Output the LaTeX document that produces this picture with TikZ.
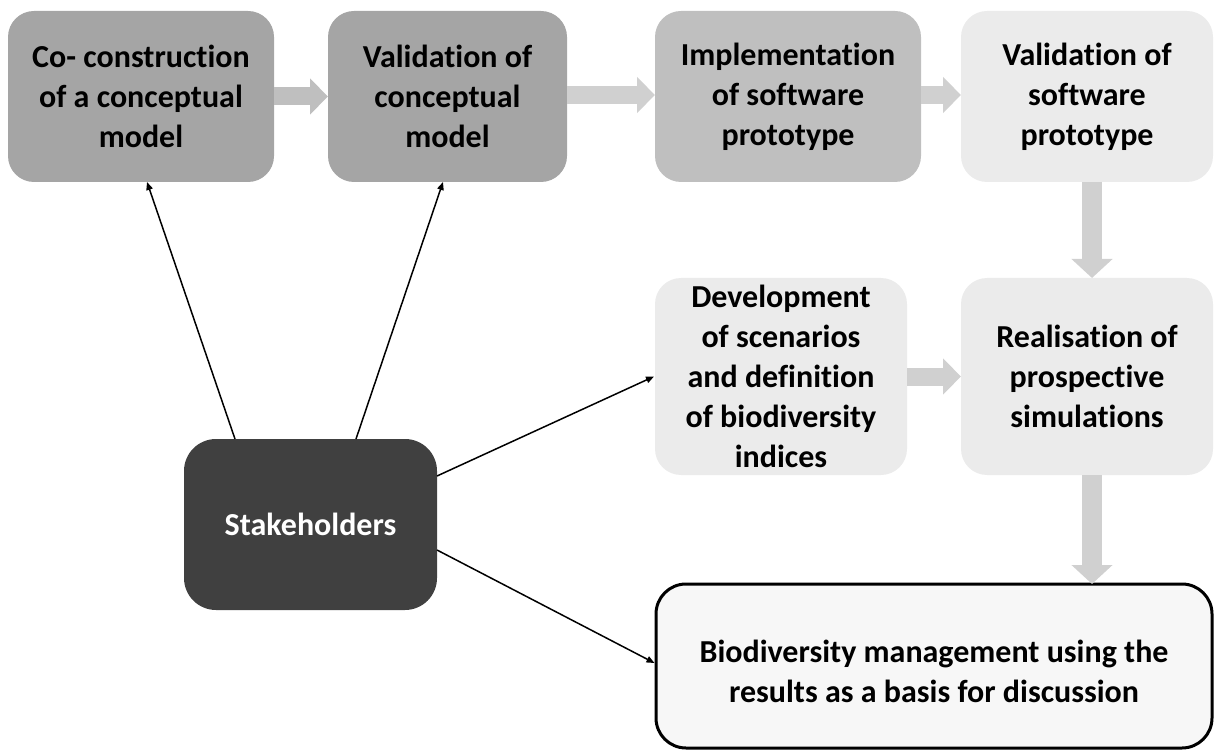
\documentclass[tikz,border=0pt]{standalone}
\usepackage{fontspec}
\setmainfont{Carlito}[Ligatures=NoCommon]
\usetikzlibrary{arrows.meta}
\definecolor{gA}{HTML}{A5A5A5}
\definecolor{gB}{HTML}{BFBFBF}
\definecolor{gC}{HTML}{EBEBEB}
\definecolor{gD}{HTML}{404040}
\definecolor{gE}{HTML}{F7F7F7}
\definecolor{arrA}{HTML}{BFBFBF}
\definecolor{arrB}{HTML}{D0D0D0}
\begin{document}
\begin{tikzpicture}[x=1pt,y=-1pt,
  box/.style={rounded corners=26pt, inner sep=0pt, outer sep=0pt, align=center,
    font=\fontsize{32}{40}\selectfont\bfseries, text=black},
  blockh/.style={line width=18pt, -{Triangle[length=18pt,width=35pt]}},
  blockv/.style={line width=20pt, -{Triangle[length=19pt,width=40pt]}},
  link/.style={line width=1.5pt, -{Triangle[length=8pt,width=6.5pt]}}]
\useasboundingbox (0,0) rectangle (1215,751);
\node[box, fill=gA, minimum width=266pt, minimum height=171pt] (b1) at (141,96.5)
  {Co- construction\\of a conceptual\\model};
\node[box, fill=gA, minimum width=239pt, minimum height=171pt] (b2) at (447.5,96.5)
  {Validation of\\conceptual\\model};
\node[box, fill=gB, minimum width=266pt, minimum height=171pt] (b3) at (788,96.5)
  {Implementation\\of software\\prototype};
\node[box, fill=gC, minimum width=252pt, minimum height=171pt] (b4) at (1087,96.5)
  {Validation of\\software\\prototype};
\node[box, fill=gC, minimum width=252pt, minimum height=197pt] (b5) at (781,376.5)
  {Development\\of scenarios\\and definition\\of biodiversity\\indices};
\node[box, fill=gC, minimum width=252pt, minimum height=197pt] (b6) at (1087,376.5)
  {Realisation of\\prospective\\simulations};
\node[box, fill=gD, text=white, rounded corners=32pt, minimum width=253pt, minimum height=171pt] (st) at (310.5,524.5)
  {Stakeholders};
\node[box, fill=gE, draw=black, line width=3pt, rounded corners=30pt, minimum width=556pt, minimum height=164pt] (b7) at (934,666)
  {\rule{0pt}{34pt}Biodiversity management using the\\results as a basis for discussion};
% block arrows
\coordinate (d1) at ([xshift=5pt]b4.south);
\coordinate (d2) at ([xshift=5pt]b6.south);
\draw[blockh, arrA] (b1.east) -- (b2.west);
\draw[blockh, arrB] ([yshift=1.5pt]b2.east) -- ([yshift=1.5pt]b3.west);
\draw[blockh, arrB] ([yshift=1.5pt]b3.east) -- ([yshift=1.5pt]b4.west);
\draw[blockh, arrB] (b5.east) -- (b6.west);
\draw[blockv, arrB] (d1) -- (d1 |- b6.north);
\draw[blockv, arrB] (d2) -- (d2 |- b7.north);
% stakeholder links
\draw[link] ([xshift=51pt]st.north west) -- ([xshift=6pt]b1.south);
\draw[link] ([xshift=172pt]st.north west) -- ([xshift=-4.5pt]b2.south);
\draw[link] ([yshift=48.5pt]st.east) -- ([xshift=-1pt]b5.west);
\draw[link] ([yshift=-25.5pt]st.east) -- ([xshift=-1.5pt,yshift=3pt]b7.west);
\end{tikzpicture}
\end{document}
